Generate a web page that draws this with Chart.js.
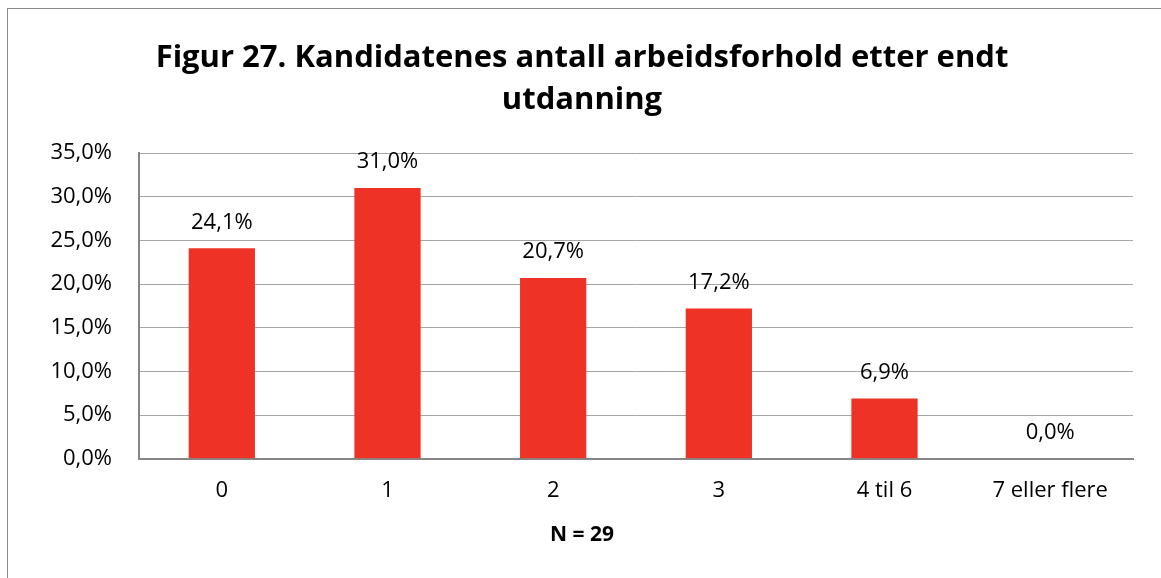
<!DOCTYPE html>
<html>
<head>
<meta charset="utf-8">
<script src="https://cdn.jsdelivr.net/npm/chart.js@4"></script>
<style>
  html, body { margin: 0; padding: 0; background: #fff; overflow: hidden; }
  #frame {
    position: absolute; left: 7px; top: 8px; width: 1200px; height: 620px;
    border: 1px solid #8c8c8c; box-sizing: border-box;
  }
  #wrap { position: absolute; left: 0; top: 0; width: 1161px; height: 578px; }
</style>
</head>
<body>
<div id="frame"></div>
<div id="wrap"><canvas id="chart"></canvas></div>
<script>
// Chart data
const categories = ["0", "1", "2", "3", "4 til 6", "7 eller flere"];
const shares = [24.1, 31.0, 20.7, 17.2, 6.9, 0.0];
const titleLines = ["Figur 27. Kandidatenes antall arbeidsforhold etter endt", "utdanning"];
const nLabel = "N = 29";

const FONT = "'Open Sans', 'Noto Sans', sans-serif";
const BAR_RED = "#EE3326";

// Norwegian style percent: 24,1%
function pct(v) {
  return v.toFixed(1).replace(".", ",") + "%";
}

// Value labels above each bar
const valueLabels = {
  id: "valueLabels",
  afterDatasetsDraw(chart) {
    const ctx = chart.ctx;
    const meta = chart.getDatasetMeta(0);
    ctx.save();
    ctx.font = "22px " + FONT;
    ctx.fillStyle = "#000";
    ctx.textAlign = "center";
    ctx.textBaseline = "middle";
    meta.data.forEach((bar, i) => {
      ctx.fillText(pct(shares[i]), bar.x, bar.y - 26);
    });
    ctx.restore();
  }
};

new Chart(document.getElementById("chart"), {
  type: "bar",
  data: {
    labels: categories,
    datasets: [{
      data: shares,
      backgroundColor: BAR_RED,
      borderWidth: 0,
      barPercentage: 0.4,
      categoryPercentage: 1.0
    }]
  },
  options: {
    responsive: true,
    maintainAspectRatio: false,
    animation: false,
    // left padding keeps the titles centred on the page, not the plot
    layout: { padding: { left: 31, right: 28, top: 37, bottom: 30 } },
    plugins: {
      legend: { display: false },
      tooltip: { enabled: false },
      title: {
        display: true,
        text: titleLines,
        color: "#000",
        font: { family: FONT, size: 31, weight: "bold", lineHeight: 1.355 },
        padding: { top: 0, bottom: 32 }
      },
      subtitle: {
        display: true,
        position: "bottom",
        text: nLabel,
        color: "#000",
        font: { family: FONT, size: 21, weight: "bold", lineHeight: 1.2 },
        padding: { top: 0, bottom: 0 }
      }
    },
    scales: {
      x: {
        grid: { display: false, drawTicks: false },
        border: { display: true, color: "#868686", width: 2 },
        ticks: { color: "#000", font: { family: FONT, size: 22 }, padding: 19 },
        afterFit(scale) { scale.height = 64; }
      },
      y: {
        min: 0,
        max: 35,
        ticks: {
          stepSize: 5,
          color: "#000",
          font: { family: FONT, size: 22 },
          padding: 27,
          callback: v => pct(v)
        },
        grid: { color: "#a6a6a6", lineWidth: 1, drawTicks: false },
        border: { display: true, color: "#868686", width: 2 },
        afterFit(scale) { scale.width = 108; }
      }
    }
  },
  plugins: [valueLabels]
});
</script>
</body>
</html>
